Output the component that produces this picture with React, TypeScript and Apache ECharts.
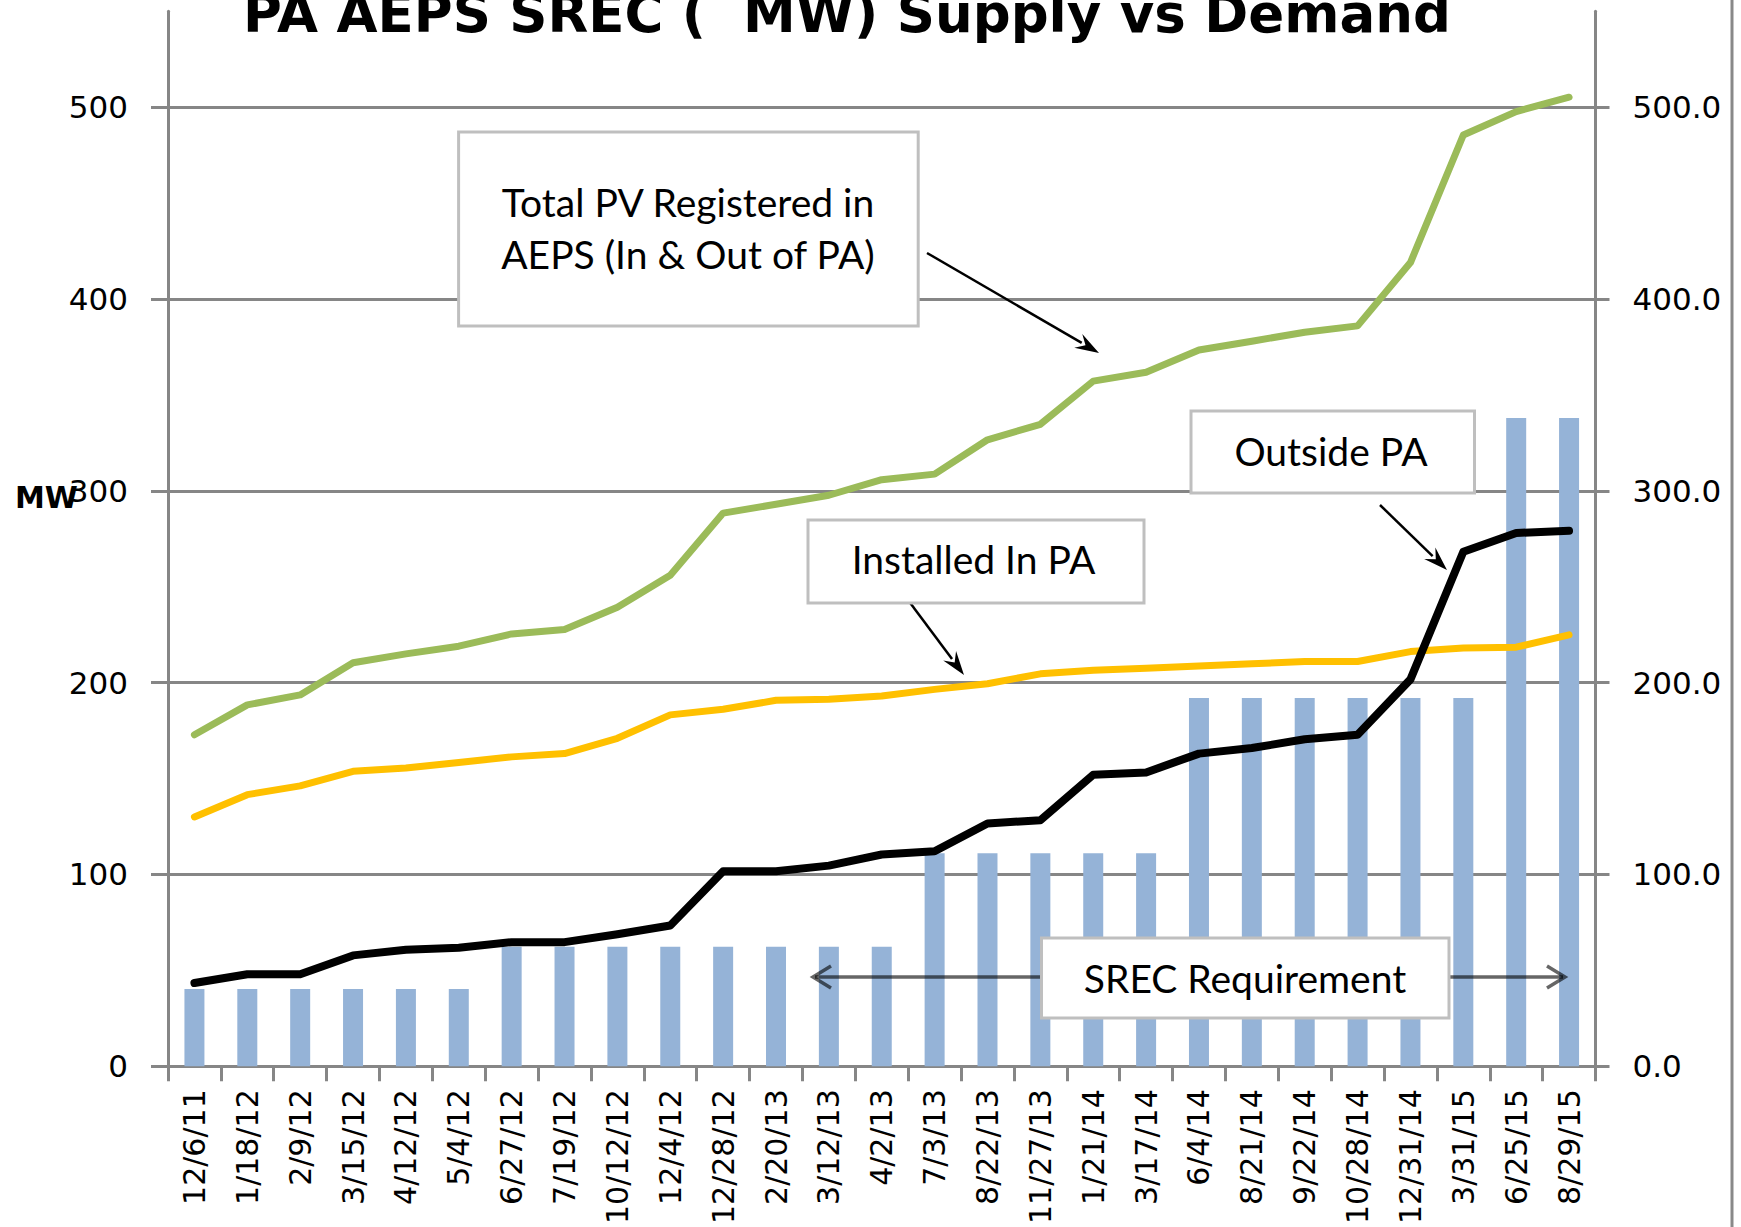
import React, { useEffect, useRef } from "react";
import * as echarts from "echarts";

const categories = [
  "12/6/11", "1/18/12", "2/9/12", "3/15/12", "4/12/12", "5/4/12", "6/27/12",
  "7/19/12", "10/12/12", "12/4/12", "12/28/12", "2/20/13", "3/12/13", "4/2/13",
  "7/3/13", "8/22/13", "11/27/13", "1/21/14", "3/17/14", "6/4/14", "8/21/14",
  "9/22/14", "10/28/14", "12/31/14", "3/31/15", "6/25/15", "8/29/15",
];

const srecRequirement = [
  40.3, 40.3, 40.3, 40.3, 40.3, 40.3, 62.3, 62.3, 62.3, 62.3, 62.3, 62.3, 62.3, 62.3,
  111, 111, 111, 111, 111, 192, 192, 192, 192, 192, 192, 338, 338,
];

const totalPV = [
  172.8, 188.4, 193.6, 210.4, 215, 219, 225.4, 227.7, 239.3, 256, 288.4, 293, 297.7,
  305.8, 308.7, 326.6, 334.7, 357.2, 361.8, 373.4, 378, 382.7, 386, 419, 485.5, 497.7, 505.2,
];

const installedInPA = [
  130, 141.6, 146.2, 153.8, 155.5, 158.4, 161.3, 163, 171, 183.2, 186.1, 190.8, 191.3,
  193, 196.5, 199.4, 204.6, 206.4, 207.5, 208.7, 209.8, 211, 211, 216.2, 218, 218.5, 224.9,
];

const outsidePA = [
  43.4, 48, 48, 57.8, 60.7, 61.8, 64.7, 64.7, 68.8, 73.4, 101.7, 101.7, 104.6, 110.4,
  112.1, 126.6, 128.3, 152, 153.2, 163, 165.9, 170.5, 172.8, 201.7, 268.2, 278, 279.2,
];

const yTicks = [0, 100, 200, 300, 400, 500];

const GRID = "#868686";
const FONT = "DejaVu Sans";
const NOTE_FONT = "Lato";

function arrow(x1: number, y1: number, x2: number, y2: number, color: string, lw: number, headLen: number, headW: number, open: boolean) {
  const dx = x2 - x1, dy = y2 - y1;
  const L = Math.hypot(dx, dy);
  const ux = dx / L, uy = dy / L;
  const px = -uy, py = ux;
  const bx = x2 - ux * headLen, by = y2 - uy * headLen;
  if (open) {
    return [
      { type: "line", z: 100, shape: { x1, y1, x2: x2 - ux * 2, y2: y2 - uy * 2 }, style: { stroke: color, lineWidth: lw } },
      {
        type: "polyline",
        z: 100,
        shape: { points: [[bx + (px * headW) / 2, by + (py * headW) / 2], [x2, y2], [bx - (px * headW) / 2, by - (py * headW) / 2]] },
        style: { stroke: color, lineWidth: lw, fill: "none" },
      },
    ];
  }
  return [
    { type: "line", z: 100, shape: { x1, y1, x2: bx + ux * 4, y2: by + uy * 4 }, style: { stroke: color, lineWidth: lw } },
    {
      type: "polygon",
      z: 100,
      shape: {
        points: [
          [x2, y2],
          [bx + (px * headW) / 2, by + (py * headW) / 2],
          [x2 - ux * headLen * 0.65, y2 - uy * headLen * 0.65],
          [bx - (px * headW) / 2, by - (py * headW) / 2],
        ],
      },
      style: { fill: color },
    },
  ];
}

function box(x: number, y: number, w: number, h: number) {
  return { type: "rect", z: 101, shape: { x, y, width: w, height: h }, style: { fill: "#fff", stroke: "#bfbfbf", lineWidth: 3 } };
}

function note(text: string, x: number, y: number) {
  return {
    type: "text",
    z: 102,
    style: { text, x, y, align: "center", verticalAlign: "middle", font: `39px ${NOTE_FONT}`, fill: "#000" },
  };
}

export default function App() {
  const ref = useRef<HTMLDivElement>(null);
  useEffect(() => {
    if (!ref.current) return;
    const chart = echarts.init(ref.current, undefined, { renderer: "svg" });
    const option: any = {
      animation: false,
      backgroundColor: "#fff",
      grid: { left: 168, right: 145.5, top: 11.3, bottom: 160, containLabel: false },
      xAxis: {
        type: "category",
        data: categories,
        boundaryGap: true,
        axisLine: { show: true, lineStyle: { color: GRID, width: 3 } },
        axisTick: { show: true, length: 15, lineStyle: { color: GRID, width: 3 } },
        axisLabel: { rotate: 90, interval: 0, fontSize: 30, fontFamily: FONT, color: "#000", margin: 23 },
      },
      yAxis: [
        {
          type: "value",
          min: 0,
          max: 550,
          interval: 100,
          position: "left",
          axisLine: { show: true, lineStyle: { color: GRID, width: 3 } },
          axisTick: { show: true, length: 17, lineStyle: { color: GRID, width: 3 }, customValues: yTicks },
          splitLine: { show: true, lineStyle: { color: GRID, width: 3 } },
          axisLabel: {
            fontSize: 31,
            fontFamily: FONT,
            color: "#000",
            margin: 40,
            customValues: yTicks,
            formatter: (v: number) => (v > 500 ? "" : String(v)),
          },
        },
        {
          type: "value",
          min: 0,
          max: 550,
          interval: 100,
          position: "right",
          axisLine: { show: true, lineStyle: { color: GRID, width: 3 } },
          axisTick: { show: true, length: 14, lineStyle: { color: GRID, width: 3 }, customValues: yTicks },
          splitLine: { show: false },
          axisLabel: {
            fontSize: 31,
            fontFamily: FONT,
            color: "#000",
            margin: 37,
            customValues: yTicks,
            formatter: (v: number) => (v > 500 ? "" : v.toFixed(1)),
          },
        },
      ],
      series: [
        {
          name: "SREC Requirement",
          type: "bar",
          data: srecRequirement,
          barWidth: 20,
          itemStyle: { color: "#95b3d7" },
          z: 1,
        },
        {
          name: "Total PV Registered in AEPS (In & Out of PA)",
          type: "line",
          data: totalPV,
          symbol: "none",
          lineStyle: { color: "#9bbb59", width: 7, cap: "round", join: "round" },
          z: 3,
        },
        {
          name: "Installed In PA",
          type: "line",
          data: installedInPA,
          symbol: "none",
          lineStyle: { color: "#ffc000", width: 7, cap: "round", join: "round" },
          z: 3,
        },
        {
          name: "Outside PA",
          type: "line",
          data: outsidePA,
          symbol: "none",
          lineStyle: { color: "#000000", width: 8, cap: "round", join: "round" },
          z: 4,
        },
      ],
      graphic: [
        {
          type: "text",
          z: 100,
          style: {
            text: "PA AEPS SREC (  MW) Supply vs Demand",
            x: 847,
            y: 13,
            align: "center",
            verticalAlign: "middle",
            font: `bold 53px ${FONT}`,
            fill: "#000",
          },
        },
        {
          type: "text",
          z: 100,
          style: { text: "MW", x: 15, y: 497, align: "left", verticalAlign: "middle", font: `bold 30px ${FONT}`, fill: "#000" },
        },
        { type: "line", z: 100, shape: { x1: 1732, y1: 0, x2: 1732, y2: 1227 }, style: { stroke: "#898989", lineWidth: 3 } },
        ...arrow(927, 253, 1099, 353, "#000", 2.5, 24, 16, false),
        ...arrow(908, 600, 964, 675, "#000", 2.5, 24, 16, false),
        ...arrow(1380, 505, 1447, 570, "#000", 2.5, 24, 16, false),
        ...arrow(1041, 977, 813, 977, "rgba(0,0,0,0.6)", 3.5, 18, 22, true),
        ...arrow(1449, 977, 1565, 977, "rgba(0,0,0,0.6)", 3.5, 18, 22, true),
        box(458.6, 132, 459.6, 194),
        note("Total PV Registered in", 688, 202),
        note("AEPS (In & Out of PA)", 688, 254),
        box(808, 520, 336, 83),
        note("Installed In PA", 973.5, 559),
        box(1191, 411, 283.5, 82),
        note("Outside PA", 1331, 451),
        box(1041.5, 938, 407.5, 80),
        note("SREC Requirement", 1245, 978),
      ],
    };
    chart.setOption(option);
    return () => chart.dispose();
  }, []);
  return <div ref={ref} style={{ position: "fixed", left: 0, top: 0, width: 1741, height: 1227 }} />;
}
